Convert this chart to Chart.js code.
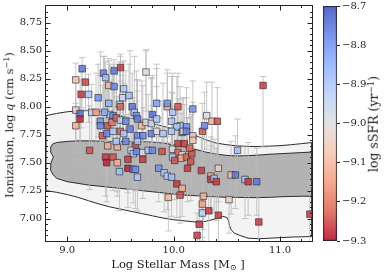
<!DOCTYPE html>
<html><head><meta charset="utf-8">
<script src="https://cdn.jsdelivr.net/npm/chart.js@4.4.1/dist/chart.umd.min.js"></script>
<style>
html,body{margin:0;padding:0;background:#fff;}
#wrap{position:relative;width:385px;height:274px;overflow:hidden;font-family:"DejaVu Serif",serif;color:#1a1a1a;}
canvas{position:absolute;top:0;}
.lbl{position:absolute;white-space:nowrap;line-height:1;}
.lbl sup{font-size:70%;vertical-align:0.45em;line-height:0;}
.lbl sub{font-size:70%;vertical-align:-0.25em;line-height:0;}
</style></head>
<body><div id="wrap">
<canvas id="main" width="385" height="274" style="left:0"></canvas>
<canvas id="cbar" width="67" height="274" style="left:318px"></canvas>
<div class="lbl" style="left:10px;top:125px;font-size:11.5px;transform:translate(-50%,-50%) rotate(-90deg)">Ionization, log <i>q</i> (cm s<sup>−1</sup>)</div>
<div class="lbl" style="left:178px;top:265px;font-size:11.5px;transform:translate(-50%,-50%)">Log Stellar Mass [M<sub>⊙</sub> ]</div>
<div class="lbl" style="left:374px;top:124px;font-size:12.5px;transform:translate(-50%,-50%) rotate(-90deg)">log sSFR (yr<sup>−1</sup>)</div>
</div>
<script>
// ---------------- data ----------------
const mass = [
9.08,9.14,9.17,9.13,9.20,9.08,9.12,9.12,9.08,9.23,
9.29,9.34,9.36,9.44,9.50,9.39,9.44,9.53,9.52,9.58,
9.49,9.50,9.61,9.39,9.27,9.40,9.35,9.43,9.63,9.80,
9.31,9.31,9.38,9.42,9.46,9.50,9.55,9.65,9.66,9.70,
9.74,9.79,9.84,9.94,9.99,10.04,10.18,9.98,10.06,9.94,
9.84,9.74,10.03,10.12,9.33,9.37,9.43,9.50,9.53,9.59,
9.66,9.71,9.79,9.84,9.90,9.98,10.08,10.18,9.38,9.47,
9.46,9.55,9.64,9.66,9.60,9.62,9.65,9.71,9.76,9.80,
9.89,9.99,10.04,10.10,10.04,10.08,9.99,10.07,10.12,10.01,
10.17,10.16,10.13,9.36,9.43,9.37,9.47,9.49,9.57,9.57,
9.62,9.64,9.66,9.71,9.86,9.91,9.94,9.98,10.03,10.08,
10.06,9.95,9.21,10.18,10.27,10.09,10.60,10.26,10.35,10.35,
10.38,10.40,10.42,10.54,10.58,10.67,10.70,10.78,10.52,10.28,
10.27,10.27,10.33,10.42,10.80,10.24,10.22,11.28,10.84,10.31,
10.36,10.41,10.29,10.12,10.15];
const logq = [
8.24,8.34,8.22,8.11,8.11,7.97,7.94,7.89,7.83,7.95,
8.08,8.30,8.26,8.32,8.35,8.19,8.18,8.16,8.08,8.10,
8.02,8.00,8.00,8.03,7.95,7.93,7.95,7.92,7.95,7.93,
7.87,7.83,7.83,7.86,7.90,7.88,7.87,7.92,7.89,7.83,
7.86,7.85,7.89,8.00,7.95,8.00,7.98,7.87,7.83,8.03,
8.03,8.31,7.82,7.82,7.74,7.76,7.78,7.78,7.76,7.80,
7.74,7.74,7.76,7.78,7.76,7.78,7.77,7.74,7.65,7.64,
7.69,7.69,7.65,7.69,7.61,7.58,7.60,7.59,7.61,7.61,
7.60,7.62,7.67,7.67,7.59,7.57,7.55,7.54,7.55,7.52,
7.58,7.51,7.45,7.55,7.55,7.50,7.50,7.42,7.53,7.45,
7.44,7.44,7.37,7.53,7.45,7.41,7.38,7.37,7.31,7.27,
7.21,7.19,7.61,7.70,7.78,7.78,7.61,7.43,7.38,7.35,
7.36,7.33,7.45,7.39,7.39,7.35,7.33,7.33,7.17,7.20,
7.13,7.05,7.07,7.03,6.97,6.95,6.85,7.04,8.19,7.92,
7.87,7.87,7.83,7.78,7.63];
const ssfr = [
-9.08,-8.76,-9.25,-9.26,-8.90,-9.03,-8.75,-9.28,-9.12,-8.93,
-8.80,-8.77,-8.88,-8.76,-9.26,-9.10,-8.78,-8.90,-8.95,-8.88,
-8.92,-9.22,-8.76,-8.86,-9.14,-8.92,-8.84,-8.78,-8.90,-8.75,
-8.80,-8.78,-9.24,-9.20,-9.22,-8.92,-8.78,-8.80,-8.77,-9.12,
-8.98,-8.95,-8.90,-9.12,-8.90,-9.24,-8.80,-8.90,-8.90,-8.80,
-8.82,-9.00,-8.90,-8.80,-9.24,-8.78,-8.90,-9.22,-8.90,-8.77,
-8.78,-8.78,-8.77,-9.00,-8.90,-8.90,-8.78,-9.06,-9.12,-9.12,
-8.90,-8.78,-9.24,-8.90,-8.98,-8.90,-8.78,-8.98,-8.90,-8.78,
-9.24,-9.00,-9.26,-9.26,-9.22,-9.00,-8.90,-9.12,-9.22,-9.24,
-9.24,-9.24,-9.26,-9.26,-9.24,-9.28,-9.12,-8.88,-9.26,-9.28,
-8.78,-8.80,-8.90,-9.26,-8.80,-8.90,-8.92,-8.88,-9.26,-9.12,
-9.24,-9.10,-9.24,-9.06,-9.24,-9.00,-8.88,-9.26,-9.12,-9.26,
-8.90,-9.26,-9.05,-9.10,-8.76,-8.88,-9.26,-8.76,-9.04,-9.12,
-9.14,-8.92,-9.26,-9.26,-9.26,-9.26,-9.26,-9.26,-9.26,-9.00,
-9.10,-9.24,-8.78,-8.77,-9.22];
const errLo = [
0.30,0.35,0.25,0.30,0.25,0.30,0.35,0.40,0.30,0.30,
0.35,0.40,0.30,0.35,0.40,0.30,0.35,0.30,0.35,0.30,
0.35,0.30,0.35,0.30,0.35,0.30,0.35,0.40,0.30,0.35,
0.30,0.35,0.40,0.30,0.35,0.30,0.35,0.30,0.30,0.35,
0.30,0.35,0.30,0.35,0.30,0.40,0.35,0.30,0.30,0.35,
0.30,0.35,0.35,0.30,0.35,0.40,0.35,0.30,0.35,0.30,
0.35,0.30,0.35,0.30,0.35,0.30,0.35,0.30,0.35,0.40,
0.30,0.35,0.40,0.30,0.35,0.30,0.35,0.30,0.35,0.30,
0.35,0.30,0.35,0.30,0.35,0.30,0.30,0.35,0.30,0.35,
0.30,0.35,0.30,0.35,0.30,0.35,0.30,0.35,0.30,0.35,
0.30,0.35,0.30,0.35,0.30,0.35,0.30,0.35,0.30,0.25,
0.25,0.30,0.35,0.30,0.30,0.35,0.30,0.35,0.30,0.30,
0.30,0.35,0.30,0.35,0.30,0.35,0.30,0.30,0.30,0.30,
0.30,0.25,0.30,0.25,0.25,0.20,0.15,0.25,0.55,0.30,
0.30,0.35,0.30,0.30,0.30];
const errHi = [
0.15,0.10,0.12,0.20,0.18,0.28,0.30,0.25,0.20,0.25,
0.30,0.15,0.14,0.10,0.12,0.22,0.20,0.25,0.32,0.28,
0.38,0.45,0.30,0.40,0.35,0.45,0.50,0.40,0.50,0.35,
0.62,0.45,0.40,0.50,0.40,0.35,0.45,0.40,0.35,0.40,
0.64,0.40,0.45,0.30,0.35,0.30,0.25,0.40,0.35,0.30,
0.35,0.20,0.45,0.35,0.45,0.50,0.55,0.50,0.45,0.70,
0.50,0.45,0.50,0.40,0.45,0.35,0.30,0.30,0.40,0.45,
0.50,0.40,0.35,0.45,0.40,0.50,0.45,0.40,0.50,0.40,
0.45,0.50,0.40,0.35,0.40,0.30,0.45,0.40,0.35,0.45,
0.35,0.40,0.45,0.40,0.45,0.40,0.50,0.45,0.40,0.45,
0.40,0.45,0.40,0.35,0.45,0.40,0.35,0.40,0.35,0.30,
0.30,0.25,0.40,0.30,0.25,0.30,0.28,0.30,0.35,0.30,
0.35,0.30,0.40,0.30,0.35,0.30,0.35,0.30,0.30,0.35,
0.35,0.30,0.35,0.30,0.30,0.25,0.20,0.25,0.08,0.30,
0.35,0.30,0.30,0.30,0.35];

// density contours (outer = light region, inner = dark region)
const outerX = [8.8,8.9,9.0,9.1,9.2,9.3,9.4,9.5,9.6,9.7,9.8,9.9,10.0,10.1,10.2,10.3,10.4,10.5,10.6,10.7,10.8,10.9,11.0,11.1,11.2,11.3,
 11.3,11.1,10.9,10.8,10.7,10.62,10.57,10.54,10.525,10.515,10.50,10.46,10.4,10.3,10.2,10.1,10.0,9.9,9.8,9.7,9.6,9.5,9.4,9.3,9.2,9.1,9.0,8.9,8.8,8.8];
const outerY = [7.92,7.94,7.955,7.963,7.965,7.96,7.945,7.92,7.895,7.87,7.85,7.825,7.80,7.78,7.745,7.705,7.675,7.66,7.65,7.645,7.645,7.648,7.652,7.66,7.67,7.68,
 6.84,6.835,6.825,6.82,6.825,6.85,6.87,6.90,6.94,6.98,7.01,7.02,7.00,6.975,6.97,6.98,6.99,7.005,7.025,7.045,7.065,7.085,7.105,7.13,7.16,7.19,7.215,7.235,7.25,7.92];
const innerX = [8.84,8.845,8.86,8.9,9.0,9.1,9.2,9.3,9.4,9.5,9.6,9.7,9.8,9.9,10.0,10.1,10.2,10.3,10.4,10.5,10.6,10.7,10.8,10.9,11.0,11.1,11.2,11.3,
 11.3,11.2,11.1,11.0,10.9,10.8,10.7,10.6,10.5,10.4,10.3,10.2,10.1,10.0,9.9,9.8,9.7,9.6,9.5,9.4,9.3,9.2,9.1,9.0,8.95,8.9,8.87,8.85,8.84,8.845,8.855,8.87,8.855,8.84];
const innerY = [7.60,7.64,7.665,7.68,7.69,7.695,7.695,7.693,7.69,7.69,7.69,7.688,7.684,7.675,7.66,7.64,7.62,7.595,7.577,7.565,7.56,7.563,7.568,7.575,7.58,7.585,7.59,7.595,
 7.20,7.20,7.198,7.195,7.19,7.188,7.188,7.19,7.19,7.195,7.20,7.205,7.21,7.22,7.23,7.24,7.25,7.26,7.27,7.28,7.29,7.30,7.315,7.33,7.345,7.36,7.39,7.42,7.45,7.49,7.52,7.55,7.575,7.60];

// axes / ticks
const xRange = [8.8, 11.3];
const yRange = [6.8, 8.9];
const xMajorTicks = [9.0, 10.0, 11.0];
const xMinorTicks = [9.2, 9.4, 9.6, 9.8, 10.2, 10.4, 10.6, 10.8, 11.2];
const yMajorTicks = [7.00, 7.25, 7.50, 7.75, 8.00, 8.25, 8.50, 8.75];
const yMinorTicks = [6.85,6.90,6.95,7.05,7.10,7.15,7.20,7.30,7.35,7.40,7.45,7.55,7.60,7.65,7.70,7.80,7.85,7.90,7.95,8.05,8.10,8.15,8.20,8.30,8.35,8.40,8.45,8.55,8.60,8.65,8.70,8.80,8.85];
const cbRange = [-9.3, -8.7];
const cbTicks = [-9.3, -9.2, -9.1, -9.0, -8.9, -8.8, -8.7];

// ---------------- styling helpers ----------------
const COOLWARM = [[59,76,192],[98,130,234],[141,176,254],[184,208,249],[221,221,221],[245,196,173],[244,154,123],[222,96,77],[180,4,38]];
function cmapRGB(t){
  t = Math.min(1, Math.max(0, t));
  const s = t * 8, i = Math.min(7, Math.floor(s)), f = s - i;
  const a = COOLWARM[i], b = COOLWARM[i+1];
  return [0,1,2].map(k => Math.round(a[k] + (b[k]-a[k]) * f));
}
function colorFor(v, alpha){
  const t = (cbRange[1] - v) / (cbRange[1] - cbRange[0]);
  const c = cmapRGB(t);
  return `rgba(${c[0]},${c[1]},${c[2]},${alpha})`;
}

Chart.defaults.font.family = "'DejaVu Serif', serif";
Chart.defaults.font.size = 10;
Chart.defaults.color = '#222';

const CAP = 0.03;
const errData = [];
mass.forEach((m, i) => {
  const lo = logq[i] - errLo[i], hi = logq[i] + errHi[i];
  errData.push({x:m, y:lo}, {x:m, y:hi}, {x:m, y:null},
               {x:m-CAP, y:hi}, {x:m+CAP, y:hi}, {x:m, y:null},
               {x:m-CAP, y:lo}, {x:m+CAP, y:lo}, {x:m, y:null});
});
const poly = (xs, ys) => xs.map((x, i) => ({x, y: ys[i]}));

const frameTicks = {
  id: 'frameTicks',
  afterDatasetsDraw(chart){
    const {ctx, chartArea: a, scales: {x, y}} = chart;
    ctx.save();
    ctx.strokeStyle = '#222';
    ctx.lineWidth = 1;
    const L = a.left - 0.5, R = a.right + 0.5, T = a.top - 0.5, B = a.bottom + 0.5;
    ctx.beginPath();
    const seg = (x1,y1,x2,y2) => { ctx.moveTo(x1,y1); ctx.lineTo(x2,y2); };
    [[xMajorTicks,5],[xMinorTicks,2.5]].forEach(([arr,len]) => arr.forEach(v => {
      const p = Math.round(x.getPixelForValue(v)) + 0.5;
      seg(p, B, p, B - len); seg(p, T, p, T + len);
    }));
    [[yMajorTicks,5],[yMinorTicks,2.5]].forEach(([arr,len]) => arr.forEach(v => {
      const p = Math.round(y.getPixelForValue(v)) + 0.5;
      seg(L, p, L + len, p); seg(R, p, R - len, p);
    }));
    ctx.stroke();
    ctx.strokeRect(L, T, R - L, B - T);
    ctx.restore();
  }
};

new Chart(document.getElementById('main'), {
  type: 'scatter',
  data: {
    datasets: [
      { data: mass.map((m, i) => ({x: m, y: logq[i]})), order: 1, clip: 0,
        pointStyle: 'rect', pointRadius: 4.6, pointHoverRadius: 4.6,
        backgroundColor: ssfr.map(v => colorFor(v, 0.85)),
        borderColor: 'rgba(45,45,45,0.9)', borderWidth: 0.7 },
      { data: errData, order: 2, showLine: true, fill: false, pointRadius: 0,
        borderColor: 'rgba(185,185,185,0.8)', borderWidth: 1, spanGaps: false },
      { data: poly(innerX, innerY), order: 3, showLine: true, fill: 'shape', pointRadius: 0,
        backgroundColor: '#b3b3b3', borderColor: '#2b2b2b', borderWidth: 1 },
      { data: poly(outerX, outerY), order: 4, showLine: true, fill: 'shape', pointRadius: 0,
        backgroundColor: '#f3f3f3', borderColor: '#2b2b2b', borderWidth: 1 }
    ]
  },
  options: {
    responsive: false, animation: false, events: [],
    layout: { padding: { left: 0, right: 73, top: 6, bottom: 0 } },
    plugins: { legend: { display: false }, tooltip: { enabled: false } },
    scales: {
      x: { type: 'linear', min: xRange[0], max: xRange[1],
        afterBuildTicks: s => { s.ticks = xMajorTicks.map(v => ({value: v})); },
        afterFit: s => { s.height = 33; s.paddingLeft = 0; s.paddingRight = 0; },
        grid: { display: false, drawTicks: false }, border: { display: false },
        ticks: { autoSkip: false, maxRotation: 0, padding: 3, callback: v => v.toFixed(1) } },
      y: { type: 'linear', min: yRange[0], max: yRange[1],
        afterBuildTicks: s => { s.ticks = yMajorTicks.map(v => ({value: v})); },
        afterFit: s => { s.width = 46; s.paddingTop = 0; s.paddingBottom = 0; },
        grid: { display: false, drawTicks: false }, border: { display: false },
        ticks: { autoSkip: false, padding: 4, callback: v => v.toFixed(2) } }
    }
  },
  plugins: [frameTicks]
});

new Chart(document.getElementById('cbar'), {
  type: 'bar',
  data: { labels: ['sSFR'], datasets: [{
    data: [[cbRange[0], cbRange[1]]],
    backgroundColor: (c) => {
      const a = c.chart.chartArea;
      if (!a) return '#ccc';
      const g = c.chart.ctx.createLinearGradient(0, a.bottom, 0, a.top);
      for (let k = 0; k <= 16; k++) {
        const f = k / 16;
        g.addColorStop(f, colorFor(cbRange[0] + f * (cbRange[1] - cbRange[0]), 0.85));
      }
      return g;
    },
    borderColor: '#222', borderWidth: 1, borderSkipped: false,
    barPercentage: 1, categoryPercentage: 1 }] },
  options: {
    responsive: false, animation: false, events: [],
    layout: { padding: { left: 5, right: 0, top: 6, bottom: 33 } },
    plugins: { legend: { display: false }, tooltip: { enabled: false } },
    scales: {
      x: { display: false },
      y: { position: 'right', min: cbRange[0], max: cbRange[1],
        afterBuildTicks: s => { s.ticks = cbTicks.map(v => ({value: v})); },
        afterFit: s => { s.width = 48; s.paddingTop = 0; s.paddingBottom = 0; },
        grid: { drawOnChartArea: false, drawTicks: true, tickLength: 3, color: '#222', lineWidth: 1 },
        border: { display: false },
        ticks: { autoSkip: false, padding: 2, callback: v => (v < 0 ? '−' : '') + Math.abs(v).toFixed(1) } }
    }
  }
});
</script>
</body></html>
